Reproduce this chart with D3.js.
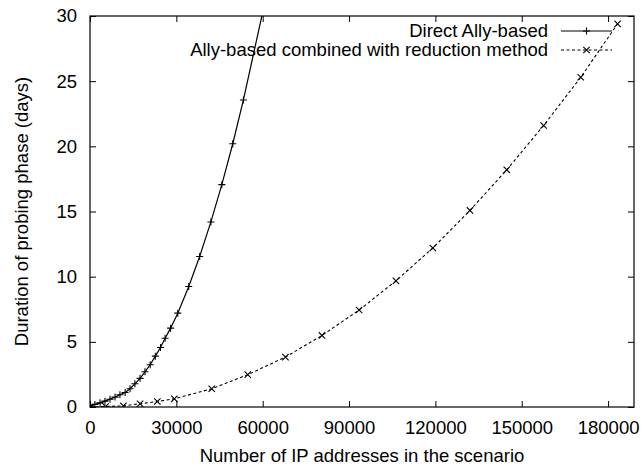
<!DOCTYPE html>
<html>
<head>
<meta charset="utf-8">
<script src="https://cdn.jsdelivr.net/npm/d3@7"></script>
<style>
  html, body { margin: 0; padding: 0; background: #fff; }
  svg text { font-family: "Liberation Sans", Arial, Helvetica, sans-serif; fill: #000; }
</style>
</head>
<body>
<svg id="chart" width="644" height="469"></svg>
<script>
// Direct Ally-based probing: IP addresses vs. duration (days)
const directX = [0, 1700, 3500, 5200, 6950, 8700, 10400, 12200, 13900, 15600, 17400, 19100,
  20900, 22700, 24500, 26100, 28000, 30500, 34300, 38100, 42000, 45800, 49600, 53300, 61000];
const directY = [0.05, 0.2, 0.32, 0.45, 0.6, 0.76, 0.94, 1.11, 1.4, 1.78, 2.2, 2.7,
  3.24, 3.9, 4.56, 5.28, 6.05, 7.2, 9.24, 11.55, 14.2, 17.06, 20.2, 23.56, 31.3];

// Ally-based combined with the reduction method
const reducedX = [0, 5400, 11600, 17400, 23400, 29300, 42300, 54800, 67900, 80600, 93500,
  106300, 119100, 132000, 144800, 157600, 170500, 183300];
const reducedY = [0, 0.04, 0.09, 0.25, 0.42, 0.63, 1.4, 2.48, 3.83, 5.49, 7.44,
  9.68, 12.2, 15.08, 18.2, 21.6, 25.3, 29.4];

const xTicks = [0, 30000, 60000, 90000, 120000, 150000, 180000];
const yTicks = [0, 5, 10, 15, 20, 25, 30];
const seriesNames = ["Direct Ally-based", "Ally-based combined with reduction method"];

const margin = { left: 90, right: 10, top: 16, bottom: 62 };
const W = 644, H = 469;
const svg = d3.select("#chart");

const x = d3.scaleLinear().domain([0, 189000]).range([margin.left, W - margin.right]);
const y = d3.scaleLinear().domain([0, 30]).range([H - margin.bottom, margin.top]);

const fontSize = 18.5;
const tickLen = 6;

// clip region for the curves
svg.append("defs").append("clipPath").attr("id", "plotclip")
  .append("rect")
  .attr("x", x.range()[0]).attr("y", y.range()[1])
  .attr("width", x.range()[1] - x.range()[0])
  .attr("height", y.range()[0] - y.range()[1]);

// axes with inward ticks (mirrored on the opposite sides)
const axisStyle = g => {
  g.select(".domain").remove();
  g.selectAll(".tick line").attr("stroke", "#000").attr("stroke-width", 1);
  g.selectAll(".tick text").attr("font-size", fontSize)
    .style("font-family", '"Liberation Sans", Arial, sans-serif');
};

svg.append("g")
  .attr("transform", `translate(0,${y(0)})`)
  .call(d3.axisBottom(x).tickValues(xTicks).tickFormat(d3.format("d"))
    .tickSizeInner(-tickLen).tickSizeOuter(0).tickPadding(14))
  .call(axisStyle);

svg.append("g")
  .attr("transform", `translate(0,${y(30)})`)
  .call(d3.axisTop(x).tickValues(xTicks).tickFormat("")
    .tickSizeInner(-tickLen).tickSizeOuter(0))
  .call(axisStyle);

svg.append("g")
  .attr("transform", `translate(${x(0)},0)`)
  .call(d3.axisLeft(y).tickValues(yTicks).tickFormat(d3.format("d"))
    .tickSizeInner(-tickLen).tickSizeOuter(0).tickPadding(13))
  .call(axisStyle);

svg.append("g")
  .attr("transform", `translate(${x.range()[1]},0)`)
  .call(d3.axisRight(y).tickValues(yTicks).tickFormat("")
    .tickSizeInner(-tickLen).tickSizeOuter(0))
  .call(axisStyle);

// plot border
svg.append("rect")
  .attr("x", x.range()[0]).attr("y", y.range()[1])
  .attr("width", x.range()[1] - x.range()[0])
  .attr("height", y.range()[0] - y.range()[1])
  .attr("fill", "none").attr("stroke", "#000").attr("stroke-width", 1.2);

// axis titles
svg.append("text")
  .attr("x", (x.range()[0] + x.range()[1]) / 2).attr("y", 462)
  .attr("text-anchor", "middle").attr("font-size", fontSize)
  .text("Number of IP addresses in the scenario");

svg.append("text")
  .attr("transform", `translate(28,${(y.range()[0] + y.range()[1]) / 2}) rotate(-90)`)
  .attr("text-anchor", "middle").attr("font-size", fontSize)
  .text("Duration of probing phase (days)");

// marker shapes
const plus = (g, cx, cy, s) => g.append("path")
  .attr("d", `M${cx - s},${cy}H${cx + s}M${cx},${cy - s}V${cy + s}`)
  .attr("stroke", "#000").attr("stroke-width", 1.1).attr("fill", "none");
const cross = (g, cx, cy, s) => g.append("path")
  .attr("d", `M${cx - s},${cy - s}L${cx + s},${cy + s}M${cx - s},${cy + s}L${cx + s},${cy - s}`)
  .attr("stroke", "#000").attr("stroke-width", 1.1).attr("fill", "none");

const line = d3.line().x(d => x(d[0])).y(d => y(d[1]));
const plot = svg.append("g").attr("clip-path", "url(#plotclip)");

const directPts = directX.map((v, i) => [v, directY[i]]);
const reducedPts = reducedX.map((v, i) => [v, reducedY[i]]);

plot.append("path").datum(directPts).attr("d", line)
  .attr("fill", "none").attr("stroke", "#000").attr("stroke-width", 1.2);
plot.append("path").datum(reducedPts).attr("d", line)
  .attr("fill", "none").attr("stroke", "#000").attr("stroke-width", 1.1)
  .attr("stroke-dasharray", "3,2.5");

directPts.forEach(d => plus(plot, x(d[0]), y(d[1]), 3.5));
reducedPts.forEach(d => cross(plot, x(d[0]), y(d[1]), 3.2));

// legend
const legendRows = [31, 50];
const textRight = 548, sampleL = 561, sampleR = 612;
seriesNames.forEach((name, i) => {
  const ly = legendRows[i];
  svg.append("text")
    .attr("x", textRight).attr("y", ly).attr("dy", "0.35em")
    .attr("text-anchor", "end").attr("font-size", fontSize)
    .text(name);
  const ln = svg.append("line")
    .attr("x1", sampleL).attr("x2", sampleR).attr("y1", ly).attr("y2", ly)
    .attr("stroke", "#000").attr("stroke-width", i === 0 ? 1.2 : 1.1);
  if (i === 1) ln.attr("stroke-dasharray", "3,2.5");
  const mx = (sampleL + sampleR) / 2;
  if (i === 0) plus(svg, mx, ly, 3.5); else cross(svg, mx, ly, 3.2);
});
</script>
</body>
</html>
